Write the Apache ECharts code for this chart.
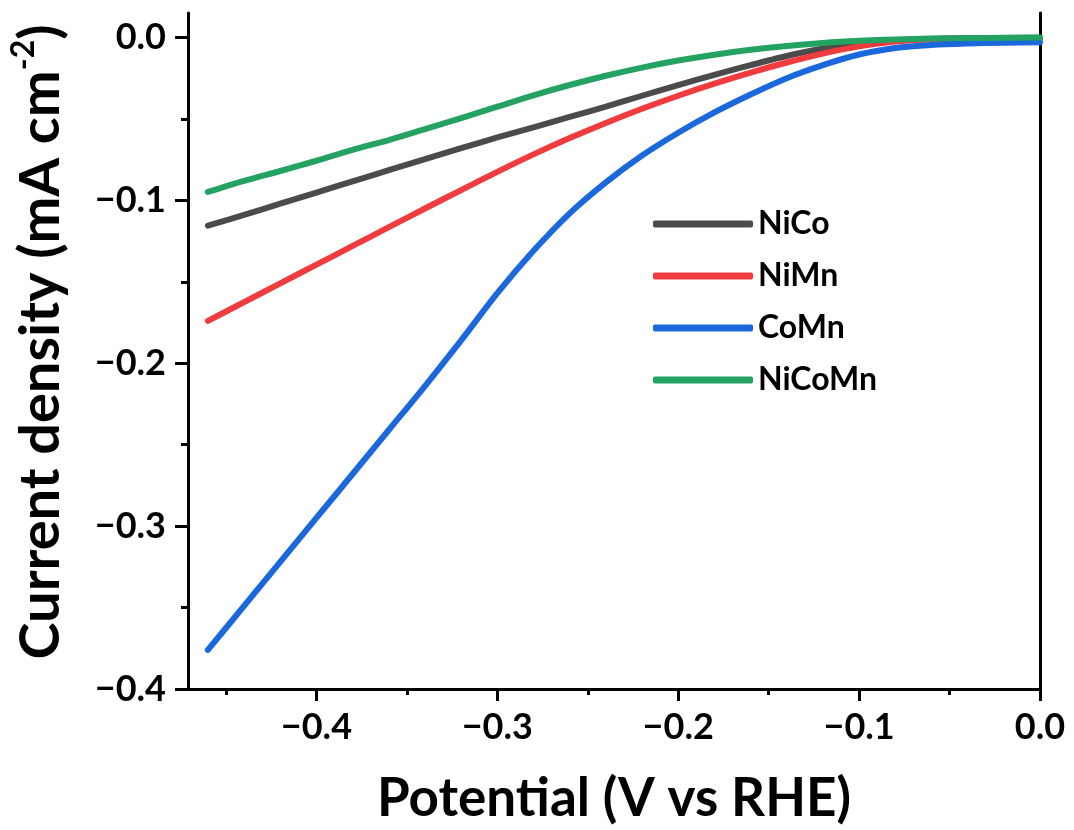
<!DOCTYPE html>
<html>
<head>
<meta charset="utf-8">
<script src="https://cdn.jsdelivr.net/npm/echarts@6/dist/echarts.min.js"></script>
<style>
html,body{margin:0;padding:0;background:#fff;}
#chart{width:1074px;height:830px;}
</style>
</head>
<body>
<div id="chart"></div>
<script>
// Potential (V vs RHE)
const potential = [-0.46,-0.44,-0.42,-0.40,-0.38,-0.36,-0.34,-0.32,-0.30,-0.28,-0.26,-0.24,-0.22,-0.20,-0.18,-0.16,-0.14,-0.12,-0.10,-0.08,-0.06,-0.04,-0.02,0.00];
// Current density (mA cm-2)
const niCo   = [-0.1156,-0.109,-0.102,-0.0952,-0.0884,-0.0815,-0.0747,-0.068,-0.0614,-0.0552,-0.0488,-0.0425,-0.0358,-0.0293,-0.0230,-0.0170,-0.0114,-0.0068,-0.0036,-0.0017,-0.0009,-0.0005,-0.0003,-0.0002];
const niMn   = [-0.174,-0.1625,-0.151,-0.1395,-0.128,-0.1165,-0.105,-0.0937,-0.0825,-0.0718,-0.0618,-0.0525,-0.0438,-0.0358,-0.0284,-0.0216,-0.0154,-0.0099,-0.0055,-0.0025,-0.0011,-0.0006,-0.0004,-0.0003];
const coMn   = [-0.376,-0.349,-0.322,-0.295,-0.268,-0.241,-0.214,-0.186,-0.157,-0.131,-0.108,-0.089,-0.0725,-0.0585,-0.046,-0.035,-0.025,-0.017,-0.0105,-0.0065,-0.0046,-0.0037,-0.0032,-0.003];
const niCoMn = [-0.0948,-0.088,-0.082,-0.0757,-0.069,-0.063,-0.0563,-0.0495,-0.0425,-0.0355,-0.0292,-0.0235,-0.0185,-0.0142,-0.0106,-0.0076,-0.0052,-0.0034,-0.0021,-0.0012,-0.0007,-0.0004,-0.0002,-0.0001];

const seriesNames = ['NiCo','NiMn','CoMn','NiCoMn'];
const seriesColors = ['#4b4b4b','#f03c3e','#1a68dc','#24a262'];
const seriesValues = [niCo, niMn, coMn, niCoMn];

const xMajorTicks = [-0.4,-0.3,-0.2,-0.1,0.0];
const xMinorTicks = [-0.45,-0.35,-0.25,-0.15,-0.05];
const yMajorTicks = [-0.4,-0.3,-0.2,-0.1,0.0];
const yMinorTicks = [-0.35,-0.25,-0.15,-0.05];

const xLabel = 'Potential (V vs RHE)';
const FONT = 'Lato';

function fmt(v){
  const s = Math.abs(v).toFixed(1);
  return v < -1e-9 ? '\u2212' + s : s;
}

const xMin = -0.471, xMax = 0, yMin = -0.4, yMax = 0.015;

const chart = echarts.init(document.getElementById('chart'), null, {renderer:'canvas'});
const option = {
  backgroundColor:'#ffffff',
  animation:false,
  grid:{left:188, right:34, top:13, bottom:138, containLabel:false},
  legend:{
    orient:'vertical', left:648, top:199,
    itemWidth:100, itemHeight:7, itemGap:12, icon:'roundRect',
    textStyle:{fontFamily:FONT, fontWeight:'bold', fontSize:32, color:'#000', lineHeight:40},
    data: seriesNames
  },
  xAxis:[
    {type:'value', min:xMin, max:xMax, position:'bottom',
     name:xLabel, nameLocation:'middle', nameGap:83,
     nameTextStyle:{fontFamily:FONT, fontWeight:'bold', fontSize:53, color:'#000'},
     axisLine:{show:true, onZero:false, lineStyle:{color:'#000', width:3}},
     axisTick:{show:true, inside:false, length:12, lineStyle:{color:'#000', width:3}, customValues:xMajorTicks},
     axisLabel:{show:true, margin:20, fontFamily:FONT, fontWeight:'bold', fontSize:36, color:'#000', formatter:fmt, customValues:xMajorTicks},
     splitLine:{show:false}},
    {type:'value', min:xMin, max:xMax, position:'bottom',
     axisLine:{show:false, onZero:false},
     axisTick:{show:true, length:6, lineStyle:{color:'#000', width:3}, customValues:xMinorTicks},
     axisLabel:{show:false},
     splitLine:{show:false}}
  ],
  yAxis:[
    {type:'value', min:yMin, max:yMax, position:'left',
     name:'{a|Current density (mA cm}{s|-2}{a|)}', nameLocation:'middle', nameGap:114, nameRotate:90,
     nameTextStyle:{padding:[0,0,0,18], rich:{
        a:{fontFamily:FONT, fontWeight:'bold', fontSize:56, color:'#000', lineHeight:66},
        s:{fontFamily:FONT, fontWeight:'bold', fontSize:32, color:'#000', verticalAlign:'top', lineHeight:66, padding:[0,0,24,0]}
     }},
     axisLine:{show:true, onZero:false, lineStyle:{color:'#000', width:3}},
     axisTick:{show:true, length:13, lineStyle:{color:'#000', width:3}, customValues:yMajorTicks},
     axisLabel:{show:true, margin:22, fontFamily:FONT, fontWeight:'bold', fontSize:36, color:'#000', formatter:fmt, customValues:yMajorTicks},
     splitLine:{show:false}},
    {type:'value', min:yMin, max:yMax, position:'left',
     axisLine:{show:false, onZero:false},
     axisTick:{show:true, length:7, lineStyle:{color:'#000', width:3}, customValues:yMinorTicks},
     axisLabel:{show:false},
     splitLine:{show:false}},
    {type:'value', min:yMin, max:yMax, position:'right',
     axisLine:{show:true, onZero:false, lineStyle:{color:'#000', width:3}},
     axisTick:{show:false}, axisLabel:{show:false}, splitLine:{show:false}}
  ],
  series: seriesNames.map((name,i)=>({
    name:name, type:'line', xAxisIndex:0, yAxisIndex:0,
    showSymbol:false, symbol:'none', smooth:0.3,
    lineStyle:{color:seriesColors[i], width:6, cap:'round', join:'round'},
    itemStyle:{color:seriesColors[i]},
    data: potential.map((x,k)=>[x, seriesValues[i][k]])
  }))
};
chart.setOption(option);
</script>
</body>
</html>
